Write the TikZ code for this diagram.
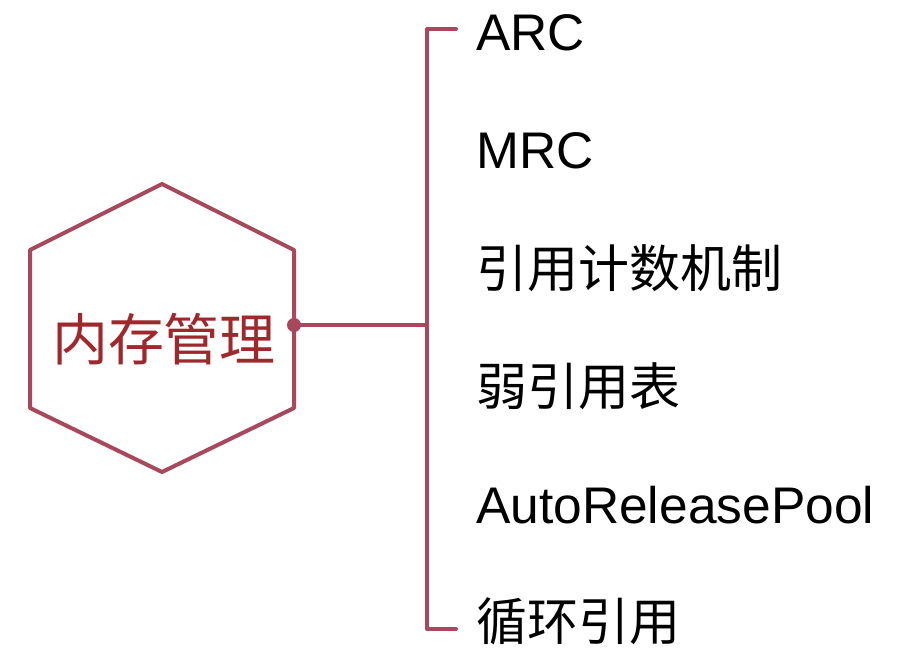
\documentclass[tikz,border=0pt]{standalone}
\usepackage{fontspec}
\setmainfont{Liberation Sans}
\newfontfamily\cjk{Noto Sans CJK SC}
\definecolor{lineRed}{RGB}{168,72,92}
\definecolor{textRed}{RGB}{158,40,44}
\tikzset{
  conn/.style={draw=lineRed, line width=4pt, line cap=round, line join=round},
  leaf/.style={anchor=base west, inner sep=0pt, font=\fontsize{51.5}{51.5}\selectfont, text=black},
  cjkleaf/.style={leaf, font=\cjk\fontsize{51}{51}\selectfont},
  rootlabel/.style={anchor=base, inner sep=0pt, font=\cjk\fontsize{56}{56}\selectfont, text=textRed}
}
\begin{document}
\begin{tikzpicture}[x=1pt,y=1pt]
\useasboundingbox[fill=white] (0,0) rectangle (908,-664);
% hexagon
\coordinate (h1) at (162,-184);
\coordinate (h2) at (294,-250);
\coordinate (h3) at (294,-408);
\coordinate (h4) at (162,-472);
\coordinate (h5) at (30,-408);
\coordinate (h6) at (30,-250);
\draw[conn, fill=white] (h1) -- (h2) -- (h3) -- (h4) -- (h5) -- (h6) -- cycle;
\node[rootlabel] (root) at (164,-360) {内存管理};
% connector
\coordinate (dot) at (294,-325);
\coordinate (join) at (427,-325);
\coordinate (btop) at (427,-29);
\coordinate (bbot) at (427,-629);
\coordinate (ttop) at (456,-29);
\coordinate (tbot) at (456,-629);
\draw[conn] (dot) -- (join);
\draw[conn] (ttop) -- (btop) -- (bbot) -- (tbot);
\fill[lineRed] (dot) circle (7);
% leaves
\node[leaf] (l1) at (476,-50) {ARC};
\node[leaf] (l2) at (476,-168) {MRC};
\node[cjkleaf] (l3) at (476,-287) {引用计数机制};
\node[cjkleaf] (l4) at (476,-405) {弱引用表};
\node[leaf] (l5) at (476,-523) {AutoReleasePool};
\node[cjkleaf] (l6) at (476,-640) {循环引用};
\end{tikzpicture}
\end{document}
